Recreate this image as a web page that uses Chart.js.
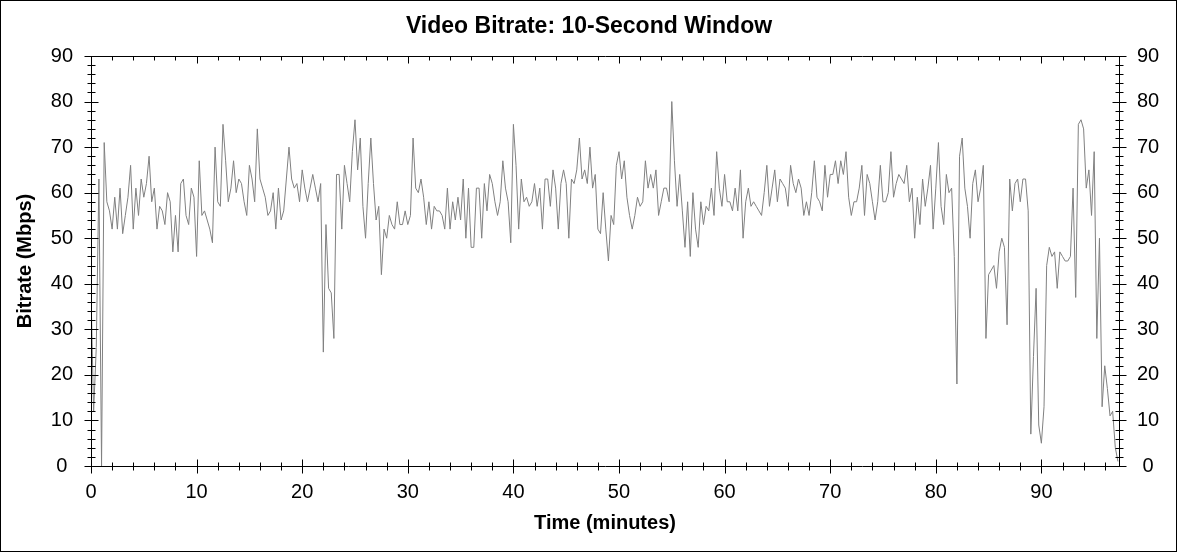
<!DOCTYPE html>
<html>
<head>
<meta charset="utf-8">
<script src="https://cdn.jsdelivr.net/npm/chart.js@4.4.1/dist/chart.umd.min.js"></script>
<style>
  body { margin: 0; background: #fff; }
  #wrap { width: 1178px; height: 552px; position: relative; }
</style>
</head>
<body>
<div id="wrap"><canvas id="bitrateChart"></canvas></div>
<script>
// minutes between samples
const sampleStep = 0.25;
// Mbps, one value per sample
const bitrate = [
  38,12,26,63,0,71,58,56,52,59, 52,61,51,55,59,66,52,61,55,63, 59,62,68,58,61,52,57,56,53,60, 58,47,55,47,62,63,55,53,61,59,
  46,67,55,56,54,52,49,70,58,57, 75,67,58,61,67,60,63,62,58,55, 66,63,58,74,63,61,59,55,56,60, 52,61,54,56,63,70,63,61,62,58,
  65,61,58,61,64,61,58,62,25,53, 39,38,28,64,64,52,66,62,58,69, 76,65,72,57,50,62,72,62,54,57, 42,52,50,55,53,52,58,53,53,56,
  53,55,72,61,60,63,59,53,58,52, 57,56,56,55,52,61,52,58,54,59, 54,63,50,61,48,48,61,61,50,62, 56,64,62,58,55,58,67,61,58,49,
  75,66,52,63,58,59,57,58,62,57, 61,52,63,63,57,65,61,52,62,65, 62,50,63,62,65,72,63,65,62,70, 61,64,52,51,60,52,45,55,53,66,
  69,63,67,59,55,52,55,59,57,58, 67,61,64,61,65,55,58,61,61,58, 80,67,57,64,56,48,58,46,60,52, 48,58,53,57,56,61,55,69,61,57,
  64,58,58,56,61,56,65,50,58,61, 57,58,57,56,55,60,66,57,61,65, 58,63,62,61,57,66,62,60,63,61, 55,58,55,60,67,59,58,56,66,59,
  64,64,67,62,67,64,69,59,55,58, 58,61,66,55,64,62,58,54,58,66, 58,58,60,69,59,62,64,63,62,66, 58,61,50,59,53,63,57,61,66,52,
  61,71,57,53,64,60,61,46,18,68, 72,61,57,50,62,65,58,61,66,28, 42,43,44,39,47,50,48,31,63,56, 62,63,58,63,63,56,7,24,39,9,
  5,13,44,48,46,47,39,47,46,45, 45,46,61,37,75,76,74,61,65,55, 69,28,50,13,22,17,11,12,4,1
];
const xTicks = [0,10,20,30,40,50,60,70,80,90];
const yTicks = [0,10,20,30,40,50,60,70,80,90];
const xMax = 97.35;

const points = bitrate.map((v, i) => ({ x: i * sampleStep, y: v }));

const tickFont = { family: 'Liberation Sans, Arial, sans-serif', size: 20 };
const titleFont = { family: 'Liberation Sans, Arial, sans-serif', size: 20, weight: 'bold' };

// frame, ticks (major + minor) and outer border
const framePlugin = {
  id: 'frame',
  afterDraw(chart) {
    const c = chart.ctx, a = chart.chartArea;
    const sx = chart.scales.x, sy = chart.scales.y;
    const L = Math.round(a.left) + 0.5, R = Math.round(a.right) + 0.5;
    const T = Math.round(a.top) + 0.5, B = Math.round(a.bottom) + 0.5;
    c.save();
    c.strokeStyle = '#000';
    c.lineWidth = 1;
    c.beginPath();
    c.rect(L, T, R - L, B - T);
    // x ticks
    for (let m = 0; m <= xMax; m += 2) {
      const px = Math.round(sx.getPixelForValue(m)) + 0.5;
      const major = m % 10 === 0;
      const len = major ? 7 : 4;
      c.moveTo(px, B - len); c.lineTo(px, B + len);
      c.moveTo(px, T); c.lineTo(px, T + len);
    }
    // y ticks
    for (let m = 0; m <= 90; m += 2) {
      const py = Math.round(sy.getPixelForValue(m)) + 0.5;
      const major = m % 10 === 0;
      const len = major ? 7 : 4;
      c.moveTo(L - len, py); c.lineTo(L + len, py);
      c.moveTo(R - len, py); c.lineTo(R + len, py);
    }
    c.stroke();
    c.strokeRect(0.5, 0.5, 1176, 551);
    c.restore();
  }
};

new Chart(document.getElementById('bitrateChart'), {
  type: 'line',
  data: {
    datasets: [{
      label: 'Video Bitrate',
      data: points,
      borderColor: '#808080',
      borderWidth: 1,
      pointRadius: 0,
      tension: 0,
      fill: false
    }]
  },
  options: {
    responsive: true,
    maintainAspectRatio: false,
    animation: false,
    layout: { padding: 0 },
    plugins: {
      legend: { display: false },
      tooltip: { enabled: false },
      title: {
        display: true,
        text: 'Video Bitrate: 10-Second Window',
        color: '#000',
        font: { family: 'Liberation Sans, Arial, sans-serif', size: 23, weight: 'bold' },
        padding: { top: 13, bottom: 15.4 }
      }
    },
    scales: {
      x: {
        type: 'linear',
        min: 0,
        max: xMax,
        afterBuildTicks: s => { s.ticks = xTicks.map(v => ({ value: v })); },
        afterFit: s => { s.height = 86; },
        grid: { display: false, drawTicks: false },
        border: { display: false },
        ticks: { color: '#000', font: tickFont, padding: 14, maxRotation: 0 },
        title: { display: true, text: 'Time (minutes)', color: '#000', font: titleFont, padding: { top: 0, bottom: 17 } }
      },
      y: {
        position: 'left',
        min: 0,
        max: 90,
        afterBuildTicks: s => { s.ticks = yTicks.map(v => ({ value: v })); },
        afterFit: s => { s.width = 91; },
        grid: { display: false, drawTicks: false },
        border: { display: false },
        ticks: { color: '#000', font: tickFont, padding: 18, crossAlign: 'center' },
        title: { display: true, text: 'Bitrate (Mbps)', color: '#000', font: titleFont, padding: { top: 13, bottom: 0 } }
      },
      y2: {
        position: 'right',
        min: 0,
        max: 90,
        afterBuildTicks: s => { s.ticks = yTicks.map(v => ({ value: v })); },
        afterFit: s => { s.width = 59; },
        grid: { display: false, drawTicks: false },
        border: { display: false },
        ticks: { color: '#000', font: tickFont, padding: 18, crossAlign: 'center' }
      }
    }
  },
  plugins: [framePlugin]
});
</script>
</body>
</html>
